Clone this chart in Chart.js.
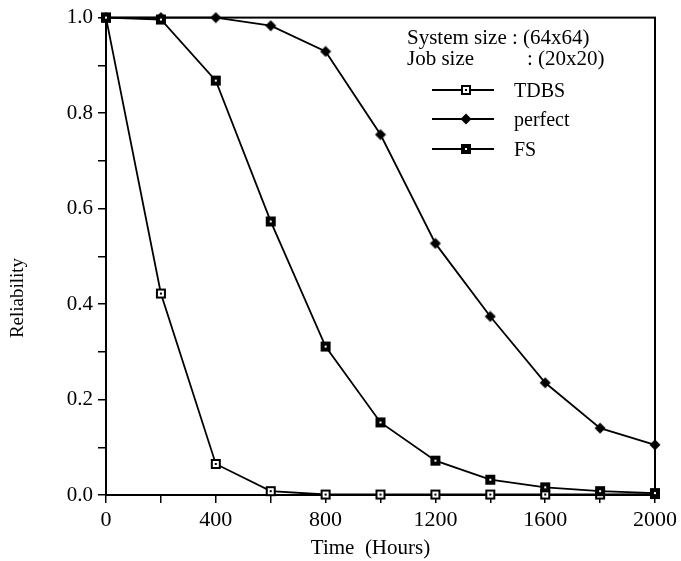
<!DOCTYPE html>
<html>
<head>
<meta charset="utf-8">
<script src="https://cdn.jsdelivr.net/npm/chart.js@4/dist/chart.umd.min.js"></script>
<style>
  html, body { margin: 0; padding: 0; background: #fff; }
  #wrap { width: 681px; height: 561px; }
</style>
</head>
<body>
<div id="wrap"><canvas id="reliabilityChart" width="681" height="561"></canvas></div>
<script>
// data
const hours = [0, 200, 400, 600, 800, 1000, 1200, 1400, 1600, 1800, 2000];
const tdbs = [1.0, 0.422, 0.065, 0.008, 0.001, 0.001, 0.001, 0.001, 0.001, 0.001, 0.002];
const perfect = [1.0, 1.0, 1.0, 0.983, 0.929, 0.755, 0.527, 0.374, 0.235, 0.14, 0.105];
const fs = [1.0, 0.996, 0.868, 0.573, 0.311, 0.152, 0.072, 0.032, 0.016, 0.008, 0.004];
const headerLines = ["System size : (64x64)", "Job size"];
const jobSizeValue = ": (20x20)";
const xTitle = "Time  (Hours)";
const yTitle = "Reliability";

const serif = "'Liberation Serif', 'DejaVu Serif', serif";

// marker images
function makeMarker(kind) {
  const c = document.createElement("canvas");
  c.width = 12;
  c.height = 12;
  const g = c.getContext("2d");
  if (kind === "open") {
    g.fillStyle = "#fff";
    g.fillRect(1, 1, 10, 10);
    g.strokeStyle = "#000";
    g.lineWidth = 2;
    g.strokeRect(2, 2, 8, 8);
    g.fillStyle = "#000";
    g.fillRect(5, 5, 2, 2);
  } else if (kind === "filled") {
    g.fillStyle = "#000";
    g.fillRect(1, 1, 10, 10);
    g.fillStyle = "#fff";
    g.fillRect(5, 5, 2, 2);
  } else {
    g.fillStyle = "#000";
    g.beginPath();
    g.moveTo(6, 0.5);
    g.lineTo(11.5, 6);
    g.lineTo(6, 11.5);
    g.lineTo(0.5, 6);
    g.closePath();
    g.fill();
  }
  return c;
}

const markers = {
  open: makeMarker("open"),
  diamond: makeMarker("diamond"),
  filled: makeMarker("filled"),
};

function series(label, values, marker, order) {
  return {
    label: label,
    data: hours.map((h, i) => ({ x: h, y: values[i] })),
    borderColor: "#000",
    borderWidth: 1.8,
    pointStyle: marker,
    pointRadius: 6,
    tension: 0,
    fill: false,
    clip: false,
    order: order,
  };
}

// frame round the plot, axis titles and the text block / legend in the top right
const framePlugin = {
  id: "frame",
  beforeDatasetsDraw(chart) {
    const a = chart.chartArea;
    const ctx = chart.ctx;
    ctx.save();
    ctx.strokeStyle = "#000";
    ctx.lineWidth = 2;
    ctx.strokeRect(a.left, a.top, a.right - a.left, a.bottom - a.top);
    ctx.restore();
  },
  afterDraw(chart) {
    const ctx = chart.ctx;
    const a = chart.chartArea;
    ctx.save();
    ctx.fillStyle = "#000";

    // axis titles
    ctx.font = "21px " + serif;
    ctx.textAlign = "center";
    ctx.textBaseline = "middle";
    ctx.fillText(xTitle, (a.left + a.right) / 2 - 10, 548);
    ctx.save();
    ctx.translate(18, 298);
    ctx.rotate(-Math.PI / 2);
    ctx.font = "19px " + serif;
    ctx.fillText(yTitle, 0, 0);
    ctx.restore();

    ctx.textAlign = "left";
    ctx.font = "21px " + serif;
    ctx.textBaseline = "alphabetic";
    ctx.fillText(headerLines[0], 407, 44);
    ctx.fillText(headerLines[1], 407, 65);
    ctx.fillText(jobSizeValue, 527, 65);

    ctx.font = "20px " + serif;
    ctx.textBaseline = "middle";
    const rows = [90, 119, 149];
    chart.data.datasets.forEach((ds, i) => {
      const y = rows[i];
      ctx.strokeStyle = "#000";
      ctx.lineWidth = 2;
      ctx.beginPath();
      ctx.moveTo(432, y);
      ctx.lineTo(494, y);
      ctx.stroke();
      ctx.drawImage(ds.pointStyle, 466 - 6, y - 6);
      ctx.fillText(ds.label, 514, y + 2);
    });
    ctx.restore();
  },
};

new Chart(document.getElementById("reliabilityChart"), {
  type: "line",
  data: {
    datasets: [
      series("TDBS", tdbs, markers.open, 2),
      series("perfect", perfect, markers.diamond, 1),
      series("FS", fs, markers.filled, 0),
    ],
  },
  options: {
    responsive: false,
    animation: false,
    layout: { padding: { left: 0, right: 24, top: 17, bottom: 0 } },
    plugins: {
      legend: { display: false },
      tooltip: { enabled: false },
    },
    scales: {
      x: {
        type: "linear",
        min: 0,
        max: 2000,
        afterFit: (s) => { s.height = 66; },
        border: { display: true, color: "#000", width: 2 },
        grid: { drawOnChartArea: false, drawTicks: true, tickLength: 8, color: "#000", lineWidth: 1.5 },
        ticks: {
          stepSize: 200,
          autoSkip: false,
          maxRotation: 0,
          padding: 4,
          color: "#000",
          font: { family: serif, size: 22 },
          callback: (v) => (v % 400 === 0 ? String(v) : ""),
        },
      },
      y: {
        type: "linear",
        min: 0,
        max: 1,
        afterFit: (s) => { s.width = 106; },
        border: { display: true, color: "#000", width: 2 },
        grid: { drawOnChartArea: false, drawTicks: true, tickLength: 8, color: "#000", lineWidth: 1.5 },
        ticks: {
          stepSize: 0.1,
          autoSkip: false,
          padding: 5,
          color: "#000",
          font: { family: serif, size: 21 },
          callback: (v) => (Math.round(v * 10) % 2 === 0 ? v.toFixed(1) : ""),
        },
      },
    },
  },
  plugins: [framePlugin],
});
</script>
</body>
</html>
